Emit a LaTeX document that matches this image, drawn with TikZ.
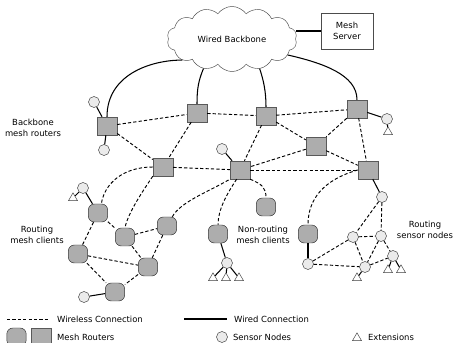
\documentclass[tikz,border=0pt]{standalone}
\usepackage{fontspec}
\setmainfont{DejaVu Sans}
\usetikzlibrary{shapes,arrows,positioning,calc}

\begin{document}
\begin{tikzpicture}[x=0.3mm, y=-0.3mm, font=\fontsize{7.2}{9.4}\selectfont,
    router/.style={draw=black!65, fill=black!32, minimum width=6mm, minimum height=5.4mm, inner sep=0pt},
    client/.style={draw=black!80, fill=black!32, rounded corners=1.8mm, minimum width=5.8mm, minimum height=5.4mm, inner sep=0pt},
    sensor/.style={draw=black!75, fill=black!8, circle, minimum size=3.3mm, inner sep=0pt},
    ext/.style={draw=black!75, fill=white, regular polygon, regular polygon sides=3, minimum size=3.1mm, inner sep=0pt},
    wireless/.style={dash pattern=on 2.8pt off 1.8pt, line width=0.8pt},
    wired/.style={line width=0.9pt},
    caption/.style={align=center}]
    \useasboundingbox (0,0) rectangle (455,343);

    \node (backbone) [cloud, draw=black!70, cloud puffs=14, cloud puff arc=110, aspect=2, minimum width=3.9cm, minimum height=1.95cm] at (232,39) {Wired Backbone};
    \node (server) [draw=black!70, minimum width=15.6mm, minimum height=10.8mm, align=center] at (347,31) {Mesh\\Server};

    \node (bb1) [router] at (107,126) {};
    \node (bb2) [router] at (197,113) {};
    \node (bb3) [router] at (266,116) {};
    \node (bb4) [router] at (357,109) {};
    \node (bb5) [router] at (316,146) {};
    \node (bb6) [router] at (163,167) {};
    \node (bb7) [router] at (240,170) {};
    \node (bb8) [router] at (368,170) {};

    \node (s1) [sensor] at (94,102) {};
    \node (s2) [sensor] at (104,150) {};
    \node (s3) [sensor] at (222,149) {};
    \node (s4) [sensor] at (387,119) {};
    \node (e1) [ext] at (388,132) {};

    \node (cl1) [client] at (98,213) {};
    \node (cl2) [client] at (125,237) {};
    \node (cl3) [client] at (167,226) {};
    \node (cl4) [client] at (78,254) {};
    \node (cl5) [client] at (148,267) {};
    \node (cl6) [client] at (115,292) {};
    \node (s5) [sensor] at (83,188) {};
    \node (e2) [ext] at (73,198) {};
    \node (s6) [sensor] at (84,297) {};

    \node (nr1) [client] at (218,234) {};
    \node (nr2) [client] at (266,207) {};
    \node (s7) [sensor] at (227,263) {};
    \node (e3) [ext] at (213,278) {};
    \node (e4) [ext] at (226,278) {};
    \node (e5) [ext] at (239,278) {};

    \node (mc) [client] at (308,234) {};
    \node (s8) [sensor] at (308,264) {};
    \node (t1) [sensor] at (382,197) {};
    \node (t2) [sensor] at (353,237) {};
    \node (t3) [sensor] at (381,236) {};
    \node (t4) [sensor] at (365,267) {};
    \node (t5) [sensor] at (393,256) {};
    \node (e6) [ext] at (357,278) {};
    \node (e7) [ext] at (388,270) {};
    \node (e8) [ext] at (401,270) {};

    \node (bblabel) [caption] at (33,128) {Backbone\\mesh routers};
    \node (rclabel) [caption] at (37,235) {Routing\\mesh clients};
    \node (nrlabel) [caption] at (263,235) {Non-routing\\mesh clients};
    \node (rslabel) [caption] at (425,230) {Routing\\sensor nodes};

    \draw [wired] (backbone.203) .. controls +(-32,0) and +(0,-42) .. (bb1.north);
    \draw [wired] (backbone.226) .. controls +(-5,12) and +(0,-15) .. (bb2.north);
    \draw [wired] (backbone.313) .. controls +(4,12) and +(0,-15) .. (bb3.north);
    \draw [wired] (backbone.344) .. controls +(35,8) and +(0,-25) .. (bb4.north);
    \draw [wired] (server.west) -- (server.west -| backbone.east);

    \draw [wireless] (bb1) -- (bb2);
    \draw [wireless] (bb1) -- (bb6);
    \draw [wireless] (bb2) -- (bb3);
    \draw [wireless] (bb2) -- (bb6);
    \draw [wireless] (bb3) -- (bb4);
    \draw [wireless] (bb3) -- (bb5);
    \draw [wireless] (bb3) -- (bb7);
    \draw [wireless] (bb4) -- (bb5);
    \draw [wireless] (bb4) -- (bb8);
    \draw [wireless] (bb5) -- (bb7);
    \draw [wireless] (bb5) -- (bb8);
    \draw [wireless] (bb6) -- (bb7);
    \draw [wireless] (bb7) -- (bb8);

    \draw [wireless] (bb6.west) .. controls +(-30,0) and +(3,-20) .. (cl1.70);
    \draw [wireless] (bb6.south west) .. controls +(-10,15) and +(3,-15) .. (cl2.north);
    \draw [wireless] (cl3.60) .. controls +(8,-15) and +(-20,12) .. (bb7.south west);
    \draw [wireless] (bb7.250) .. controls +(-10,15) and +(0,-15) .. (nr1.north);
    \draw [wireless] (bb7.south east) .. controls +(12,5) and +(0,-10) .. (nr2.north);
    \draw [wireless] (bb8.west) .. controls +(-35,10) and +(0,-25) .. (mc.north);

    \draw [wireless] (cl1) -- (cl2);
    \draw [wireless] (cl1) -- (cl4);
    \draw [wireless] (cl2) -- (cl3);
    \draw [wireless] (cl2) -- (cl5);
    \draw [wireless] (cl3) -- (cl5);
    \draw [wireless] (cl4) -- (cl5);
    \draw [wireless] (cl4) -- (cl6);
    \draw [wireless] (cl5) -- (cl6);

    \draw [wireless] (t1) -- (t2);
    \draw [wireless] (t1) -- (t3);
    \draw [wireless] (t2) -- (t3);
    \draw [wireless] (t2) -- (t4);
    \draw [wireless] (t3) -- (t4);
    \draw [wireless] (t3) -- (t5);
    \draw [wireless] (t4) -- (t5);
    \draw [wireless] (s8) -- (t2);
    \draw [wireless] (s8) -- (t4);

    \draw [wired] (bb1) -- (s1);
    \draw [wired] (bb1) -- (s2);
    \draw [wired] (bb7) -- (s3);
    \draw [wired] (bb4) -- (s4);
    \draw [wired] (s4) -- (e1);
    \draw [wired] (cl1) -- (s5);
    \draw [wired] (s5) -- (e2);
    \draw [wired] (cl6) -- (s6);
    \draw [wired] (nr1) -- (s7);
    \draw [wired] (s7) -- (e3);
    \draw [wired] (s7) -- (e4);
    \draw [wired] (s7) -- (e5);
    \draw [wired] (mc) -- (s8);
    \draw [wired] (bb8) -- (t1);
    \draw [wired] (t4) -- (e6);
    \draw [wired] (t5) -- (e7);
    \draw [wired] (t5) -- (e8);

    \coordinate (lw1) at (7,319);
    \coordinate (lw2) at (50,319);
    \coordinate (ld1) at (184,319);
    \coordinate (ld2) at (227,319);
    \draw [wireless] (lw1) -- (lw2);
    \draw [wired] (ld1) -- (ld2);
    \node (lwtext) [anchor=west] at (53,319) {Wireless Connection};
    \node (ldtext) [anchor=west] at (230,319) {Wired Connection};
    \node (lclient) [client] at (16.5,337) {};
    \node (lrouter) [router] at (41.5,337) {};
    \node (lrtext) [anchor=west] at (53,337) {Mesh Routers};
    \node (lsensor) [sensor] at (222,337) {};
    \node (lstext) [anchor=west] at (229,337) {Sensor Nodes};
    \node (lext) [ext] at (357,338) {};
    \node (letext) [anchor=west] at (364,337) {Extensions};
\end{tikzpicture}
\end{document}
